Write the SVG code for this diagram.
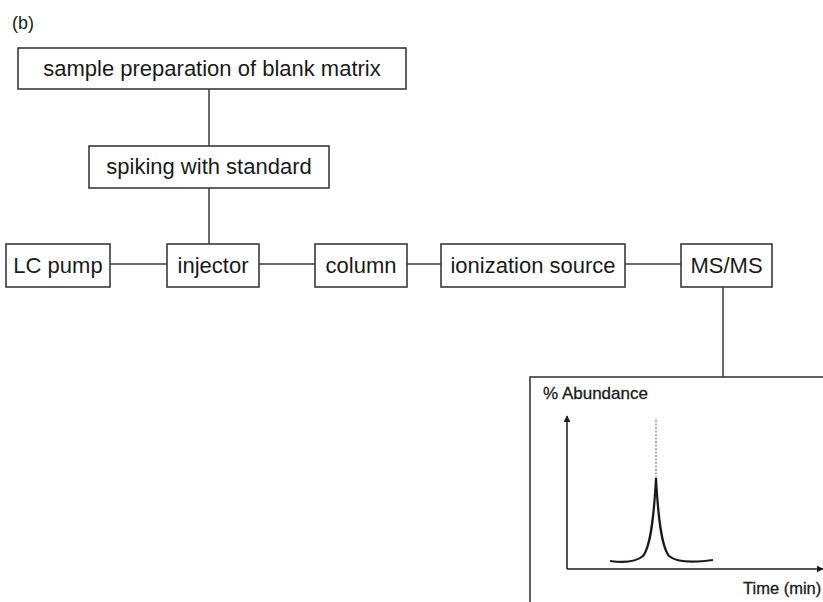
<svg xmlns="http://www.w3.org/2000/svg" width="823" height="602" viewBox="0 0 823 602">
<style>
.box{fill:#fff;stroke:#3a3a3a;stroke-width:1.6}
.lbl{font-family:"Liberation Sans",Arial,sans-serif;font-size:22px;fill:#1a1a1a;text-anchor:middle}
.small{font-family:"Liberation Sans",Arial,sans-serif;font-size:17px;fill:#1a1a1a;stroke:#1a1a1a;stroke-width:0.3}
.conn line{stroke:#3a3a3a;stroke-width:1.5}
</style>
<defs>
<marker id="ah" viewBox="0 0 10 10" refX="9" refY="5" markerWidth="7" markerHeight="7" orient="auto" markerUnits="userSpaceOnUse">
<path d="M0,0 L10,5 L0,10 z" fill="#1a1a1a"/>
</marker>
</defs>
<rect width="823" height="602" fill="#fff"/>
<text x="12" y="29" style="font-family:'Liberation Sans',Arial,sans-serif;font-size:18px;fill:#1a1a1a">(b)</text>
<g class="conn" id="connectors">
<line x1="209" y1="89" x2="209" y2="146"/>
<line x1="209" y1="188" x2="209" y2="244"/>
<line x1="110" y1="264" x2="167" y2="264"/>
<line x1="259" y1="264" x2="315" y2="264"/>
<line x1="407" y1="264" x2="441" y2="264"/>
<line x1="625" y1="264" x2="681" y2="264"/>
<line x1="723" y1="287" x2="723" y2="377"/>
</g>
<g id="n-sample"><rect class="box" x="18" y="48" width="388" height="41"/><text class="lbl" x="212" y="76">sample preparation of blank matrix</text></g>
<g id="n-spiking"><rect class="box" x="89" y="146" width="240" height="42"/><text class="lbl" x="209" y="174">spiking with standard</text></g>
<g id="n-lcpump"><rect class="box" x="6" y="244" width="104" height="43"/><text class="lbl" x="58" y="273">LC pump</text></g>
<g id="n-injector"><rect class="box" x="167" y="244" width="92" height="43"/><text class="lbl" x="213" y="273">injector</text></g>
<g id="n-column"><rect class="box" x="315" y="244" width="92" height="43"/><text class="lbl" x="361" y="273">column</text></g>
<g id="n-ion"><rect class="box" x="441" y="244" width="184" height="43"/><text class="lbl" x="533" y="273">ionization source</text></g>
<g id="n-msms"><rect class="box" x="681" y="244" width="91" height="43"/><text class="lbl" x="726.5" y="273">MS/MS</text></g>
<g id="n-chrom">
<rect class="box" x="530" y="377" width="310" height="240"/>
<text class="small" x="543" y="399">% Abundance</text>
<line x1="567" y1="569" x2="567" y2="416" stroke="#1a1a1a" stroke-width="1.5" marker-end="url(#ah)"/>
<line x1="567" y1="569" x2="823" y2="569" stroke="#1a1a1a" stroke-width="1.5" marker-end="url(#ah)"/>
<line x1="656" y1="478" x2="656" y2="418" stroke="#999" stroke-width="1.5" stroke-dasharray="2,1.5"/>
<path d="M610,561 C625,563 636,562 643,556 C651,546 654,515 656,478 C658,515 661,546 669,556 C676,562 692,563 713,560" fill="none" stroke="#1a1a1a" stroke-width="2.2"/>
<text class="small" x="743" y="594" style="font-size:16.5px">Time (min)</text>
</g>
</svg>
